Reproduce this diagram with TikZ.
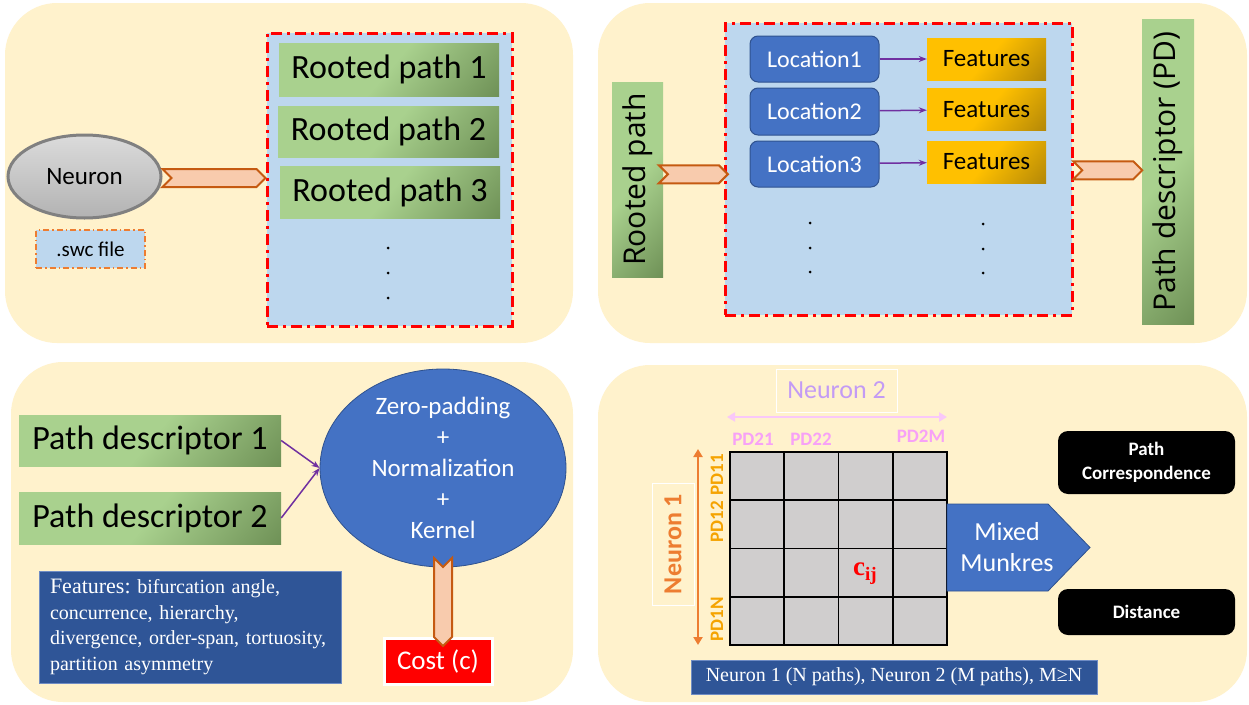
\documentclass[tikz,border=0pt]{standalone}
\usepackage{fontspec}
\setmainfont{Carlito}
\newfontfamily\serifface{Liberation Serif}
\newfontfamily\wideface{Open Sans}
\usetikzlibrary{shapes.geometric,shapes.symbols,arrows.meta,calc}

\definecolor{panelbg}{HTML}{FFF2CC}
\definecolor{paleblue}{HTML}{BDD7EE}
\definecolor{greenlt}{HTML}{A9D18E}
\definecolor{greendk}{HTML}{56763F}
\definecolor{goldlt}{HTML}{FFC000}
\definecolor{golddk}{HTML}{94700A}
\definecolor{accentblue}{HTML}{4472C4}
\definecolor{accentedge}{HTML}{2F528F}
\definecolor{navy}{HTML}{2F5597}
\definecolor{navyedge}{HTML}{6F8CC4}
\definecolor{chevfill}{HTML}{F8CBAD}
\definecolor{chevedge}{HTML}{C55A11}
\definecolor{violet}{HTML}{7030A0}
\definecolor{orangeacc}{HTML}{ED7D31}
\definecolor{pdorange}{HTML}{F5A300}
\definecolor{pinklabel}{HTML}{F7A1F7}
\definecolor{pinkline}{HTML}{F9C8F9}
\definecolor{lavender}{HTML}{C39BF5}
\definecolor{cellgray}{HTML}{D0CECE}

% light fill that darkens toward one corner
\pgfdeclarehorizontalshading{greenfade}{100bp}{color(0bp)=(greenlt); color(50bp)=(greenlt); color(100bp)=(greendk)}
\pgfdeclarehorizontalshading{goldfade}{100bp}{color(0bp)=(goldlt); color(50bp)=(goldlt); color(100bp)=(golddk)}

\newcommand\fsz[2]{\fontsize{#1}{#2}\selectfont}
\frenchspacing

\begin{document}
\begin{tikzpicture}[x=1pt,y=-1pt,
  panel/.style={fill=panelbg, rounded corners=52pt},
  greenbox/.style={shade, shading=greenfade, shading angle=-40, inner sep=0pt},
  goldbox/.style={shade, shading=goldfade, shading angle=-40, inner sep=0pt,
    minimum width=119pt, minimum height=42pt, font=\fsz{25}{30}},
  locbox/.style={rounded corners=8pt, fill=accentblue, draw=accentedge, line width=1pt,
    text=white, inner sep=0pt, minimum width=129pt, minimum height=46pt, font=\fsz{24}{29}},
  frame/.style={fill=paleblue, draw=red, line width=3pt,
    dash pattern=on 11pt off 5pt on 3pt off 5pt, inner sep=0pt},
  chev/.style={signal, signal pointer angle=90, fill=chevfill, draw=chevedge,
    line width=2pt, inner sep=0pt},
  link/.style={violet, line width=1.5pt, -{Stealth[length=8pt,width=6pt]}},
  navybox/.style={fill=navy, draw=navyedge, line width=0.8pt, text=white, inner sep=0pt},
  blackbox/.style={fill=black, rounded corners=10pt, text=white, inner sep=0pt,
    minimum width=177pt, align=center, font=\bfseries\fsz{19}{24}},
  pdtop/.style={text=pinklabel, font=\bfseries\fsz{19}{22}, inner sep=0pt},
  pdside/.style={text=pdorange, font=\bfseries\fsz{19}{22}, inner sep=0pt, rotate=90},
  ellipsis/.style={circle, fill=black, inner sep=0pt, minimum size=3pt}
]
\useasboundingbox (0,0) rectangle (1249,704);
\fill[white] (0,0) rectangle (1249,704);

% four background panels
\fill[panel] (5,3) rectangle (573,343);
\fill[panel] (598,3) rectangle (1247,343);
\fill[panel] (11,362) rectangle (573,702);
\fill[panel] (598,365) rectangle (1247,702);

% ---------- neuron to rooted paths ----------
\node[ellipse, minimum width=153pt, minimum height=83pt, draw=gray, line width=3pt,
  top color=black!14, bottom color=black!30, font=\fsz{25}{30}] (neuron) at (84.5,176.5) {Neuron};
\node[fill=paleblue, draw=orangeacc, line width=1.8pt, dash pattern=on 6pt off 3pt on 1.5pt off 3pt,
  minimum width=109pt, minimum height=38pt, inner sep=0pt, font=\fsz{21}{25}] (swc) at (90.5,249) {.swc file};
\node[frame, minimum width=245pt, minimum height=293pt] (paths) at (389.5,179.5) {};
\node[greenbox, minimum width=220pt, minimum height=53pt, font=\fsz{34}{40}] (rp1) at (389,69.5) {Rooted path 1};
\node[greenbox, minimum width=221pt, minimum height=51pt, font=\fsz{34}{40}] (rp2) at (388.5,131.5) {Rooted path 2};
\node[greenbox, minimum width=220pt, minimum height=52pt, font=\fsz{34}{40}] (rp3) at (390,192) {Rooted path 3};
\node[ellipsis] (rpd1) at (388,248) {};
\node[ellipsis] (rpd2) at (388,273) {};
\node[ellipsis] (rpd3) at (388,298) {};
\node[chev, signal to=east, signal from=west, minimum width=103pt, minimum height=18pt]
  (ch1) at ($(neuron.east)!0.5!(paths.west)$) {};

% ---------- rooted path to path descriptor ----------
\node[greenbox, rotate=90, minimum width=195pt, minimum height=51pt, font=\wideface\fsz{30}{36}]
  (rpv) at (637.5,179.5) {Rooted path};
\node[frame, minimum width=347pt, minimum height=292pt] (locs) at (898.5,169) {};
\node[locbox] (loc1) at (814.5,59) {Location1};
\node[locbox, minimum height=47pt] (loc2) at (814.5,111.5) {Location2};
\node[locbox] (loc3) at (814.5,164) {Location3};
\node[goldbox] (ft1) at (986.5,59) {Features};
\node[goldbox] (ft2) at (986.5,109.5) {Features};
\node[goldbox] (ft3) at (986.5,162) {Features};
\draw[link] (loc1) -- (ft1);
\draw[link] (loc2) -- (ft2);
\draw[link] (loc3) -- (ft3);
\node[ellipsis] (ld1) at (810,223) {};
\node[ellipsis] (ld2) at (810,248) {};
\node[ellipsis] (ld3) at (810,272) {};
\node[ellipsis] (fd1) at (983,224) {};
\node[ellipsis] (fd2) at (983,249) {};
\node[ellipsis] (fd3) at (983,273) {};
\node[greenbox, rotate=90, minimum width=305pt, minimum height=52pt, font=\wideface\fsz{30}{36}]
  (pdv) at (1168,171.5) {Path descriptor (PD)};
\node[chev, signal to=east, signal from=west, minimum width=69pt, minimum height=18pt]
  (ch2) at ($(rpv.south)!0.5!(locs.west)$) {};
\node[chev, signal to=east, signal from=west, minimum width=69pt, minimum height=18pt]
  (ch3) at ($(locs.east)!0.5!(pdv.north)$) {};

% ---------- pairwise cost ----------
\node[greenbox, minimum width=262pt, minimum height=51pt, font=\fsz{34}{40}] (pd1) at (150,440.5) {Path descriptor 1};
\node[greenbox, minimum width=262pt, minimum height=52pt, font=\fsz{34}{40}] (pd2) at (150,518) {Path descriptor 2};
\node[ellipse, minimum width=246pt, minimum height=198pt, fill=accentblue, draw=accentedge,
  line width=0.8pt] (kern) at (443,468) {};
\node[text=white, align=center, font=\fsz{25}{31}] (kerntext) at (kern.center)
  {Zero-padding\\+\\Normalization\\+\\Kernel};
\draw[link] (pd1.east) -- (kern.west);
\draw[link] (pd2.east) -- (kern.west);
\node[fill=red, draw=white, line width=3pt, text=white, minimum width=108pt, minimum height=46pt,
  inner sep=0pt, font=\fsz{27}{32}] (cost) at (438,661) {Cost (c)};
\node[chev, signal to=south, signal from=north, minimum width=18pt, minimum height=70pt]
  (ch4) at ($(kern.south)!0.5!(kern.south|-cost.north)$) {};
\node[navybox, minimum width=302pt, minimum height=112pt, text width=280pt, inner xsep=11pt,
  align=left, font=\serifface\fsz{20}{25.5}] (featlist) at (190,627)
  {{\fsz{22}{25.5}Features:} bifurcation angle,\\concurrence, hierarchy,\\divergence, order-span, tortuosity,\\partition asymmetry};

% ---------- assignment ----------
\node[draw=black, fill=cellgray, line width=1.5pt, minimum width=217pt, minimum height=193pt,
  inner sep=0pt] (grid) at (838.5,548.5) {};
\foreach \i in {1,2,3} {
  \draw[line width=1.5pt] ($(grid.north west)!\i/4!(grid.north east)$) -- ($(grid.south west)!\i/4!(grid.south east)$);
  \draw[line width=1.5pt] ($(grid.north west)!\i/4!(grid.south west)$) -- ($(grid.north east)!\i/4!(grid.south east)$);
}
\node[text=red, font=\serifface\bfseries, inner sep=0pt] (cij) at (865,574)
  {{\fsz{27}{30}c}{\fsz{19}{22}\raisebox{-5pt}{ij}}};

\node[draw=white, line width=1pt, minimum width=121pt, minimum height=43pt, inner sep=0pt,
  text=lavender, font=\fsz{26}{30}] (n2) at (836.5,390.5) {Neuron 2};
\coordinate (n2l) at (727,417);
\coordinate (n2r) at (947,417);
\draw[pinkline, line width=2.5pt, {Triangle[length=8pt,width=9pt]}-{Triangle[length=8pt,width=9pt]}] (n2l) -- (n2r);
\node[pdtop] (pd21) at (753,439) {PD21};
\node[pdtop] (pd22) at (811,439) {PD22};
\node[pdtop] (pd2m) at (921,436) {PD2M};

\node[draw=white, line width=1pt, minimum width=122pt, minimum height=42pt, inner sep=0pt,
  rotate=90, text=orangeacc, font=\bfseries\fsz{26}{30}] (n1) at (673,544) {Neuron 1};
\coordinate (n1t) at (698,449);
\coordinate (n1b) at (698,645);
\draw[orangeacc, line width=2.5pt, {Triangle[length=8pt,width=9pt]}-{Triangle[length=8pt,width=9pt]}] (n1t) -- (n1b);
\node[pdside] (pd11) at (717,475) {PD11};
\node[pdside] (pd12) at (717,522) {PD12};
\node[pdside] (pd1n) at (717,619) {PD1N};

\node[signal, signal to=east, signal pointer angle=92, fill=accentblue, draw=accentedge,
  line width=0.8pt, inner sep=0pt, minimum width=143pt, minimum height=87pt] (munkres) at (997.5,547.5) {};
\node[text=white, align=center, font=\fsz{26}{31}] (munkrestext) at (1007,547) {Mixed\\Munkres};
\node[blackbox, minimum height=63pt] (corr) at (1146.5,462.5) {Path\\Correspondence};
\node[blackbox, minimum height=46pt] (dist) at (1146.5,612) {Distance};
\node[navybox, minimum width=406pt, minimum height=34pt, font=\serifface\fsz{20}{24}]
  (counts) at (894,677) {Neuron 1 (N paths), Neuron 2 (M paths), M≥N};
\end{tikzpicture}
\end{document}
